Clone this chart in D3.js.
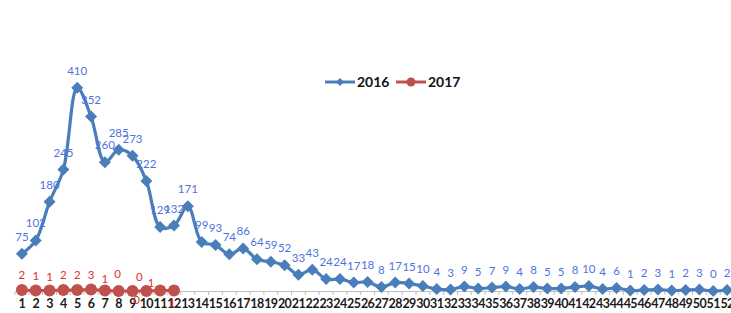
<!DOCTYPE html>
<html>
<head>
<meta charset="utf-8">
<script src="https://cdn.jsdelivr.net/npm/d3@7"></script>
<style>
  body { margin: 0; background: #fff; }
  svg { display: block; font-family: Lato, "Open Sans", sans-serif; }
</style>
</head>
<body>
<div id="chart"></div>
<script>
const weeks = d3.range(1, 53);
const cases2016 = [75, 102, 180, 245, 410, 352, 260, 285, 273, 222, 129, 132, 171, 99, 93, 74, 86,
  64, 59, 52, 33, 43, 24, 24, 17, 18, 8, 17, 15, 10, 4, 3, 9, 5, 7, 9, 4, 8, 5, 5, 8, 10, 4, 6,
  1, 2, 3, 1, 2, 3, 0, 2];
const cases2017 = [2, 1, 1, 2, 2, 3, 1, 0, 0, 0, 1, 1];
const seriesNames = ['2016', '2017'];

// hand placed label nudges for 2017 (excel had them dragged around)
const nudge2017 = [[0,0],[0,0],[0,1],[0,0],[0,0],[0,0],[0,3],[-1,-2],[4,24],[-7,1],[-9,7],[-2,27]];

const width = 731, height = 313;
const blue = '#4a7ebb', red = '#c0504d';

const svg = d3.select('#chart').append('svg')
    .attr('width', width)
    .attr('height', height);

const x = d3.scaleBand()
    .domain(weeks)
    .range([15, 734]);

const y = d3.scaleLinear()
    .domain([0, 450])
    .range([291, 68]);

const cx = d => x(d) + x.bandwidth() / 2;

// x axis
const xAxis = d3.axisBottom(x).tickSize(0).tickPadding(8);
const ax = svg.append('g')
    .attr('transform', `translate(0, ${y(0)})`)
    .call(xAxis);
ax.select('.domain').attr('stroke', '#bfbfbf').attr('stroke-width', 1);
ax.selectAll('text')
    .attr('fill', '#1a1a1a')
    .attr('font-size', 12.5)
    .attr('font-weight', 'bold')
    .attr('letter-spacing', -0.6)
    .attr('font-family', 'Lato, sans-serif');

svg.append('g')
  .selectAll('line')
  .data(weeks.concat([53]))
  .join('line')
    .attr('x1', d => d === 53 ? x(52) + x.bandwidth() : x(d))
    .attr('x2', d => d === 53 ? x(52) + x.bandwidth() : x(d))
    .attr('y1', y(0))
    .attr('y2', y(0) + 4)
    .attr('stroke', '#bfbfbf');

// 2016
const line = d3.line()
    .x((d, i) => cx(weeks[i]))
    .y(d => y(d))
    .curve(d3.curveCatmullRom.alpha(0.5));

svg.append('path')
    .datum(cases2016)
    .attr('d', line)
    .attr('fill', 'none')
    .attr('stroke', blue)
    .attr('stroke-width', 3.2);

const r = 6;
svg.append('g')
  .selectAll('path')
  .data(cases2016)
  .join('path')
    .attr('d', (d, i) => {
      const px = cx(weeks[i]), py = y(d);
      return `M${px},${py - r}L${px + r},${py}L${px},${py + r}L${px - r},${py}Z`;
    })
    .attr('fill', blue);

svg.append('g')
  .selectAll('text')
  .data(cases2016)
  .join('text')
    .attr('x', (d, i) => cx(weeks[i]))
    .attr('y', d => y(d) - 13)
    .attr('text-anchor', 'middle')
    .attr('font-size', 11.5)
    .attr('fill', '#4f73de')
    .text(d => d);

// 2017
svg.append('path')
    .datum(cases2017)
    .attr('d', line)
    .attr('fill', 'none')
    .attr('stroke', red)
    .attr('stroke-width', 3);

svg.append('g')
  .selectAll('circle')
  .data(cases2017)
  .join('circle')
    .attr('cx', (d, i) => cx(weeks[i]))
    .attr('cy', d => y(d))
    .attr('r', 6)
    .attr('fill', red);

svg.append('g')
  .selectAll('text')
  .data(cases2017)
  .join('text')
    .attr('x', (d, i) => cx(weeks[i]) + nudge2017[i][0])
    .attr('y', (d, i) => y(d) - 11 + nudge2017[i][1])
    .attr('text-anchor', 'middle')
    .attr('font-size', 11.5)
    .attr('fill', '#e0302e')
    .text(d => d);

// legend
const legend = svg.append('g').attr('transform', 'translate(325, 82)');
const items = legend.selectAll('g')
  .data(seriesNames)
  .join('g')
    .attr('transform', (d, i) => `translate(${i * 71}, 0)`);

items.append('line')
    .attr('x1', 0).attr('x2', 30)
    .attr('stroke', (d, i) => i ? red : blue)
    .attr('stroke-width', 3);

items.filter((d, i) => i === 0).append('path')
    .attr('d', 'M15,-4L19,0L15,4L11,0Z')
    .attr('fill', blue);

items.filter((d, i) => i === 1).append('circle')
    .attr('cx', 15).attr('r', 4.5)
    .attr('fill', red);

items.append('text')
    .attr('x', 32)
    .attr('dy', '0.36em')
    .attr('font-size', 14)
    .attr('font-weight', 'bold')
    .attr('fill', '#111')
    .text(d => d);
</script>
</body>
</html>
